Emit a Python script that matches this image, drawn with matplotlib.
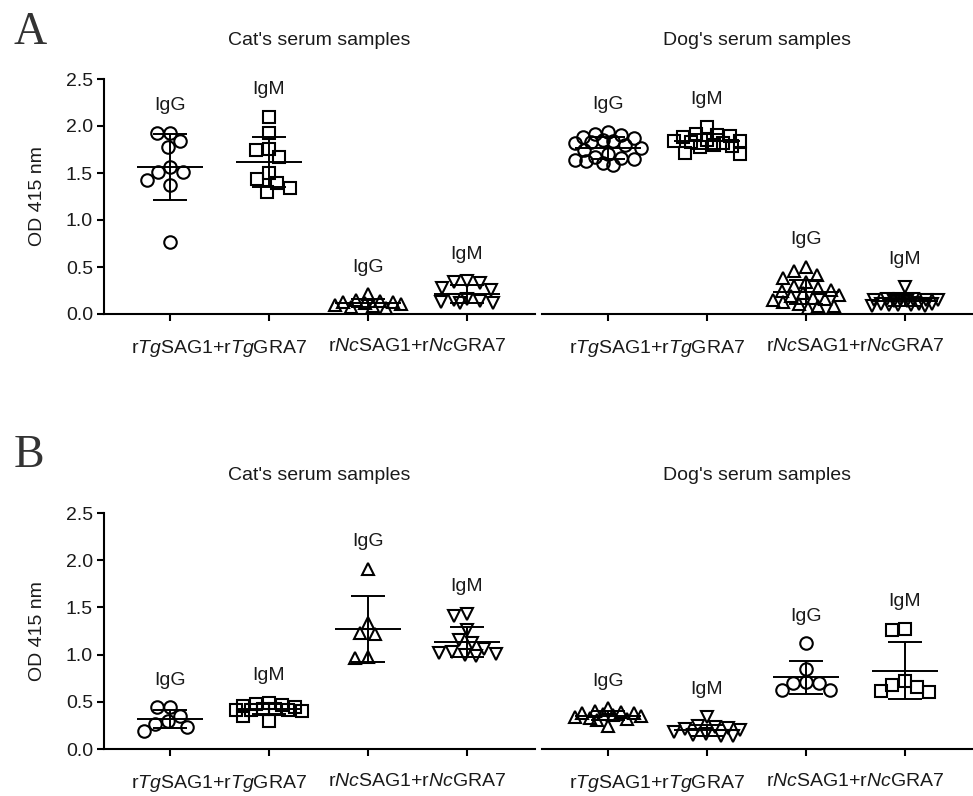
import numpy as np
import matplotlib.pyplot as plt

plt.rcParams["font.family"] = ["Liberation Sans", "DejaVu Sans"]
plt.rcParams["mathtext.fontset"] = "custom"
plt.rcParams["mathtext.rm"] = "Liberation Sans"
plt.rcParams["mathtext.it"] = "Liberation Sans:italic"
plt.rcParams["axes.linewidth"] = 1.5

# OD 415 nm values
# A: antibodies against Toxoplasma / Neospora antigens
a_cat_tg_igg = [1.93, 1.93, 1.84, 1.78, 1.56, 1.51, 1.51, 1.43, 1.37, 0.77]
a_cat_tg_igm = [2.10, 1.93, 1.76, 1.74, 1.67, 1.50, 1.44, 1.39, 1.34, 1.30]
a_cat_nc_igg = [0.21, 0.15, 0.14, 0.13, 0.13, 0.12, 0.11, 0.10, 0.08, 0.07, 0.06]
a_cat_nc_igm = [0.35, 0.34, 0.33, 0.28, 0.26, 0.16, 0.15, 0.14, 0.13, 0.12, 0.12]
a_dog_tg_igg = [1.94, 1.92, 1.90, 1.88, 1.87, 1.85, 1.84, 1.83, 1.82, 1.80,
                1.77, 1.74, 1.70, 1.67, 1.66, 1.65, 1.64, 1.63, 1.61, 1.58]
a_dog_tg_igm = [1.99, 1.91, 1.90, 1.89, 1.88, 1.85, 1.84, 1.84, 1.83, 1.82,
                1.80, 1.79, 1.78, 1.71, 1.70]
a_dog_nc_igg = [0.50, 0.46, 0.42, 0.38, 0.34, 0.30, 0.28, 0.26, 0.24, 0.22,
                0.20, 0.19, 0.17, 0.16, 0.15, 0.13, 0.11, 0.09, 0.08, 0.06]
a_dog_nc_igm = [0.29, 0.16, 0.16, 0.16, 0.15, 0.15, 0.15, 0.14, 0.14,
                0.11, 0.11, 0.11, 0.10, 0.10, 0.10, 0.09, 0.09]
# B
b_cat_tg_igg = [0.44, 0.44, 0.35, 0.30, 0.27, 0.23, 0.19]
b_cat_tg_igm = [0.49, 0.48, 0.47, 0.46, 0.44, 0.42, 0.42, 0.41, 0.41, 0.41, 0.40, 0.35, 0.30]
b_cat_nc_igg = [1.91, 1.34, 1.23, 1.22, 0.97, 0.96]
b_cat_nc_igm = [1.43, 1.41, 1.26, 1.15, 1.12, 1.06, 1.03, 1.02, 1.01, 1.00, 0.99]
b_dog_tg_igg = [0.43, 0.40, 0.39, 0.38, 0.38, 0.37, 0.36, 0.35, 0.34, 0.33, 0.32, 0.31, 0.24]
b_dog_tg_igm = [0.34, 0.24, 0.23, 0.22, 0.21, 0.20, 0.18, 0.16, 0.15, 0.14, 0.14]
b_dog_nc_igg = [1.12, 0.85, 0.71, 0.70, 0.70, 0.63, 0.62]
b_dog_nc_igm = [1.27, 1.26, 0.72, 0.68, 0.66, 0.61, 0.60]

isotypes = ["IgG", "IgM", "IgG", "IgM"]
antigen_labels = [r"r$\mathit{Tg}$SAG1+r$\mathit{Tg}$GRA7",
                  r"r$\mathit{Nc}$SAG1+r$\mathit{Nc}$GRA7"]
yticks = [0.0, 0.5, 1.0, 1.5, 2.0, 2.5]

W, H = 973, 796
XPX, YPX = 99.0, 94.0  # pixels per data unit


def swarm(vals, d=13.0, xmax=33.0):
    # simple beeswarm in pixel space, points packed towards the centre
    vals = np.asarray(vals)
    xs = np.zeros(len(vals))
    cands = np.arange(-xmax, xmax + 0.5, 0.5)
    placed = []
    for i in np.argsort(-vals):
        y = vals[i] * YPX
        if placed:
            P = np.array(placed)
            dist = np.sqrt((cands[:, None] - P[None, :, 0]) ** 2 + (y - P[None, :, 1]) ** 2).min(axis=1)
        else:
            dist = np.full(len(cands), np.inf)
        ok = dist >= d
        if ok.any():
            c = cands[ok][np.argmin(np.abs(cands[ok]))]
        else:
            c = cands[np.argmax(dist)]
        xs[i] = c
        placed.append((c, y))
    return xs / XPX


def draw(ax, groups, marks, left):
    for i, (vals, m) in enumerate(zip(groups, marks)):
        v = np.array(vals)
        ax.plot(i + swarm(v), v, ls="none", marker=m, ms=9, mfc="none", mec="black",
                mew=1.5, clip_on=False, zorder=3)
        mu, sd = v.mean(), v.std(ddof=1)
        ax.hlines(mu, i - 0.33, i + 0.33, color="black", lw=1.4, zorder=4, clip_on=False)
        ax.hlines([mu - sd, mu + sd], i - 0.17, i + 0.17, color="black", lw=1.4, zorder=4, clip_on=False)
        ax.vlines(i, mu - sd, mu + sd, color="black", lw=1.4, zorder=4, clip_on=False)
        ax.text(i, v.max() + 0.24, isotypes[i], ha="center", va="baseline", fontsize=14, color="#1a1a1a")
    ax.set_xlim(-0.667, 3.687)
    ax.set_ylim(0, 2.5)
    ax.spines["top"].set_visible(False)
    ax.spines["right"].set_visible(False)
    ax.set_xticks([0, 1, 2, 3])
    ax.set_xticklabels([])
    ax.set_xticks([0.5, 2.5], minor=True)
    ax.set_xticklabels(antigen_labels, minor=True, fontsize=14, color="#1a1a1a")
    ax.tick_params(axis="x", which="major", length=5, width=1.5, direction="out")
    ax.tick_params(axis="x", which="minor", length=0, pad=17)
    if left:
        ax.set_yticks(yticks)
        ax.set_yticklabels([f"{t:.1f}" for t in yticks], fontsize=14, color="#1a1a1a")
        ax.tick_params(axis="y", length=5, width=1.5, pad=3)
        ax.set_ylabel("OD 415 nm", fontsize=14, color="#1a1a1a")
        ax.yaxis.set_label_coords(-0.135, 0.5)
    else:
        ax.spines["left"].set_visible(False)
        ax.set_yticks([])


fig = plt.figure(figsize=(W / 100, H / 100), dpi=100)


def rect(x0, x1, y0, y1):
    return [x0 / W, 1 - y1 / H, (x1 - x0) / W, (y1 - y0) / H]


ax1 = fig.add_axes(rect(104, 535, 79, 314))
ax2 = fig.add_axes(rect(542, 973, 79, 314))
ax3 = fig.add_axes(rect(104, 535, 513, 749))
ax4 = fig.add_axes(rect(542, 973, 513, 749))

draw(ax1, [a_cat_tg_igg, a_cat_tg_igm, a_cat_nc_igg, a_cat_nc_igm], ["o", "s", "^", "v"], True)
draw(ax2, [a_dog_tg_igg, a_dog_tg_igm, a_dog_nc_igg, a_dog_nc_igm], ["o", "s", "^", "v"], False)
draw(ax3, [b_cat_tg_igg, b_cat_tg_igm, b_cat_nc_igg, b_cat_nc_igm], ["o", "s", "^", "v"], True)
draw(ax4, [b_dog_tg_igg, b_dog_tg_igm, b_dog_nc_igg, b_dog_nc_igm], ["^", "v", "o", "s"], False)

for lab, yb in [("A", 44), ("B", 467)]:
    fig.text(14 / W, 1 - yb / H, lab, family="Liberation Serif", fontsize=33, color="#333333", va="baseline")
for yb in [45, 480]:
    fig.text(319 / W, 1 - yb / H, "Cat's serum samples", ha="center", va="baseline", fontsize=14, color="#1a1a1a")
    fig.text(757 / W, 1 - yb / H, "Dog's serum samples", ha="center", va="baseline", fontsize=14, color="#1a1a1a")

fig.savefig("out.png", dpi=100)
